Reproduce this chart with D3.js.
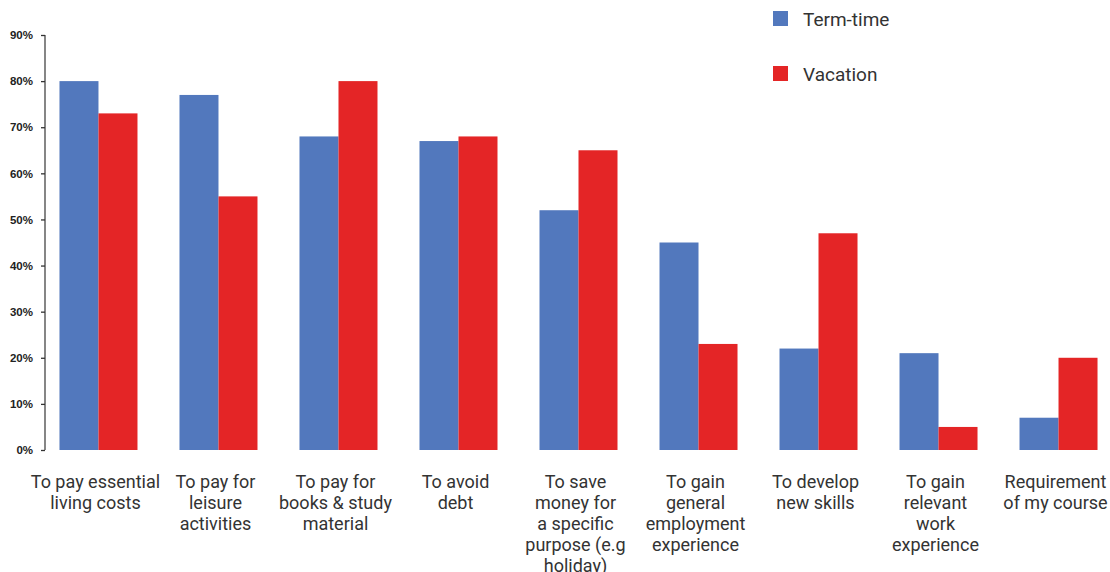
<!DOCTYPE html>
<html>
<head>
<meta charset="utf-8">
<script src="https://cdn.jsdelivr.net/npm/d3@7"></script>
<style>
  html, body { margin: 0; padding: 0; background: #fff; }
  svg { display: block; }
  .cat-label { font-family: Roboto, "Liberation Sans", sans-serif; font-size: 18px; fill: #333; }
  .legend-label { font-family: Roboto, "Liberation Sans", sans-serif; font-size: 19px; fill: #333; }
  .y-axis text { font-family: "Liberation Sans", Arial, sans-serif; font-weight: bold; font-size: 11.5px; fill: #222; }
</style>
</head>
<body>
<svg id="chart" width="1110" height="572"></svg>
<script>
// Reasons for working, split by term-time and vacation work
const categories = [
  ["To pay essential", "living costs"],
  ["To pay for", "leisure", "activities"],
  ["To pay for", "books & study", "material"],
  ["To avoid", "debt"],
  ["To save", "money for", "a specific", "purpose (e.g", "holiday)"],
  ["To gain", "general", "employment", "experience"],
  ["To develop", "new skills"],
  ["To gain", "relevant", "work", "experience"],
  ["Requirement", "of my course"]
];
const termTime = [80, 77, 68, 67, 52, 45, 22, 21, 7];
const vacation = [73, 55, 80, 68, 65, 23, 47, 5, 20];
const seriesNames = ["Term-time", "Vacation"];
const seriesColors = ["#5278bd", "#e42526"];
const yTicks = [0, 10, 20, 30, 40, 50, 60, 70, 80, 90];

const svg = d3.select("#chart");
const y = d3.scaleLinear().domain([0, 90]).range([450, 35]);
const x0 = d3.scaleBand()
  .domain(d3.range(categories.length))
  .range([47, 1110])
  .paddingInner(0.35)
  .paddingOuter(0.104);
const x1 = d3.scaleBand().domain([0, 1]).range([0, x0.bandwidth()]);

const series = [termTime, vacation];

// Bars
const groups = svg.append("g").selectAll("g")
  .data(d3.range(categories.length))
  .join("g")
  .attr("transform", i => `translate(${x0(i)},0)`);

groups.selectAll("rect")
  .data(i => series.map((s, k) => ({ k, v: s[i] })))
  .join("rect")
  .attr("x", d => x1(d.k))
  .attr("width", x1.bandwidth())
  .attr("y", d => y(d.v))
  .attr("height", d => y(0) - y(d.v))
  .attr("fill", d => seriesColors[d.k]);

// Y axis
const yAxis = svg.append("g")
  .attr("class", "y-axis")
  .attr("transform", "translate(45,0)")
  .call(d3.axisLeft(y).tickValues(yTicks).tickFormat(d => d + "%").tickSize(4).tickPadding(8));
yAxis.select(".domain").attr("stroke", "#444").attr("stroke-width", 1.3).attr("d", "M0,35V450");
yAxis.selectAll(".tick line").attr("stroke", "#333").attr("stroke-width", 1.3);

// Category labels
const labels = svg.append("g").selectAll("text")
  .data(categories)
  .join("text")
  .attr("class", "cat-label")
  .attr("text-anchor", "middle")
  .attr("x", (d, i) => x0(i) + x0.bandwidth() / 2 - 3)
  .attr("y", 488);
labels.selectAll("tspan")
  .data(d => d)
  .join("tspan")
  .attr("x", function () { return this.parentNode.getAttribute("x"); })
  .attr("dy", (d, j) => j === 0 ? 0 : 21)
  .text(d => d);

// Legend
const legend = svg.append("g").selectAll("g")
  .data(seriesNames)
  .join("g")
  .attr("transform", (d, i) => `translate(773,${11 + i * 55})`);
legend.append("rect")
  .attr("width", 15).attr("height", 15)
  .attr("fill", (d, i) => seriesColors[i]);
legend.append("text")
  .attr("class", "legend-label")
  .attr("x", 30).attr("y", 14.5)
  .text(d => d);
</script>
</body>
</html>
